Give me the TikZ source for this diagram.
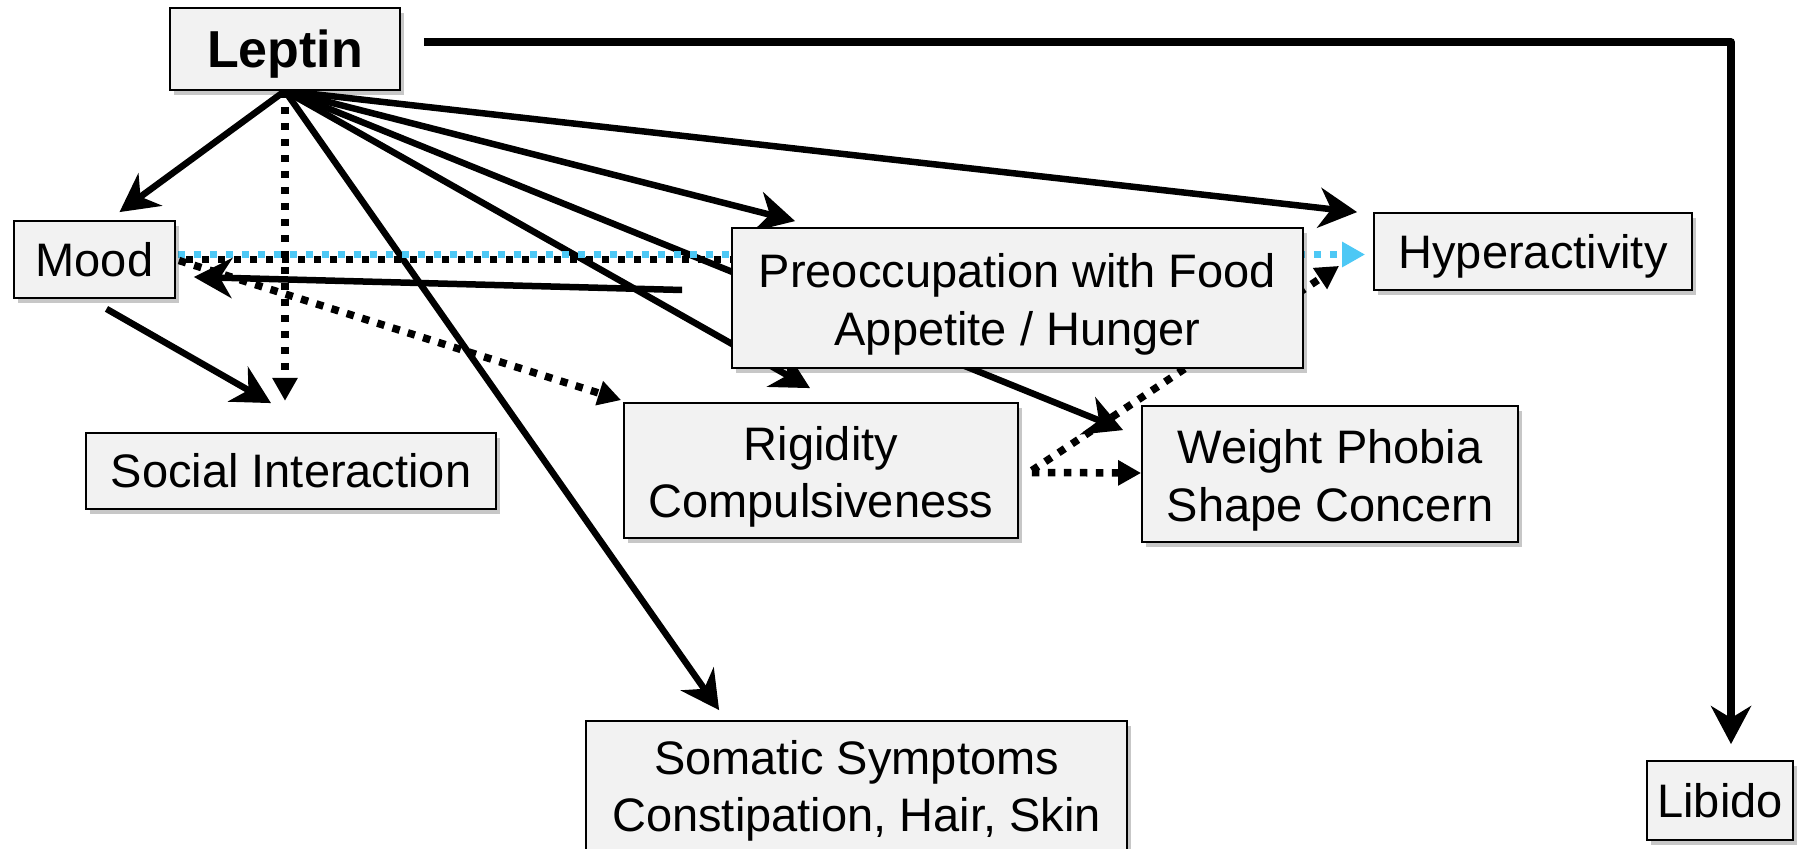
\documentclass[tikz,border=0pt]{standalone}
\usepackage{fontspec}
\setmainfont{Liberation Sans}
\usepackage{tikz}
\usetikzlibrary{
    arrows.meta,
    calc,
    backgrounds,
    shadows
}
\usepackage{xcolor}
\definecolor{boxgray}{RGB}{242,242,242}
\definecolor{skyblue}{RGB}{77,200,245}
\newcommand{\capstrut}{\rule{0pt}{23.6pt}}

\begin{document}
\begin{tikzpicture}[
    x=0.5pt, y=-0.5pt,
    box/.style={
        rectangle, draw, line width=0.9pt, fill=boxgray,
        drop shadow={shadow xshift=2pt, shadow yshift=-2.5pt, fill=black, opacity=0.22},
        align=center, inner sep=0pt,
        font=\fontsize{23.5}{28.75}\selectfont
    },
    arrow/.style={-{Stealth[length=19pt, width=20pt, inset=6pt]}, line width=3.25pt},
    dotarrow/.style={-{Triangle[length=11.5pt, width=12pt]}, line width=3.75pt,
        dash pattern=on 3.75pt off 4.25pt}
]
\useasboundingbox (0,0) rectangle (1802,849);

% Hormone and symptom boxes
\node[box, minimum width=115pt, minimum height=41pt, text depth=0pt,
      font=\fontsize{26}{30}\selectfont\bfseries] (leptin) at (285, 49) {Leptin};
\node[box, minimum width=80.5pt, minimum height=38.5pt] (mood) at (94.5, 259.5) {Mood};
\node[box, minimum width=205pt, minimum height=38pt] (social) at (291, 471) {Social Interaction};
\node[box, minimum width=285.5pt, minimum height=70pt] (preoc) at (1017.5, 298) {\capstrut Preoccupation with Food\\Appetite / Hunger};
\node[box, minimum width=159pt, minimum height=38.5pt, text depth=0pt] (hyper) at (1533, 251.5) {Hyperactivity};
\node[box, minimum width=197pt, minimum height=67.5pt] (rigid) at (821, 470.5) {\capstrut Rigidity\\Compulsiveness};
\node[box, minimum width=188pt, minimum height=68pt] (weight) at (1330, 474) {\capstrut Weight Phobia\\Shape Concern};
\node[box, minimum width=270.5pt, minimum height=70pt] (somatic) at (856.5, 791) {Somatic Symptoms\\Constipation, Hair, Skin};
\node[box, minimum width=73pt, minimum height=39.5pt] (libido) at (1720, 800.5) {Libido};

\coordinate (lepout) at ($(leptin.east)+(23,-7)$);
\coordinate (preocout) at ($(preoc.west)+(-49,-8)$);

\begin{scope}[on background layer]
% Leptin fan-out
\draw[arrow] (leptin.south) -- ($(mood.north)+(25,-8)$);
\draw[dotarrow] (leptin.south) -- ++(0,310);
\draw[arrow] (leptin.south) -- ($(somatic.north west)+(134,-10)$);
\draw[arrow] (leptin.south) -- ($(rigid.north)+(-11,-14)$);
\draw[arrow] (leptin.south) -- ($(preoc.north west)+(64,-6)$);
\draw[arrow] (leptin.south) -- ($(weight.north west)+(-18,25)$);
\draw[arrow] (leptin.south) -- ($(hyper.north west)+(-16,0)$);
\draw[arrow, line width=3.75pt, line join=round] (lepout) -| ($(libido.north)+(11,-16)$);

% Mood links
\draw[arrow] ($(mood.south)+(12,10)$) -- ($(social.north)+(-20,-29)$);
\draw[line width=3.75pt, dash pattern=on 3.75pt off 4.25pt, dash phase=4pt]
    ($(mood.east)+(2,0)$) -- ($(preoc.west)+(10,-38.5)$);
\draw[dotarrow, skyblue]
    ($(mood.east)+(2,-5)$) -- ($(hyper.west)+(-8,3)$);
\draw[dotarrow] ($(mood.east)+(3,1)$) -- ($(rigid.north west)+(-2,-2)$);
\draw[arrow] (preocout) -- ($(mood.east)+(18,17.5)$);

% Rigidity links
\draw[dotarrow] ($(rigid.east)+(13,2)$) -- ($(weight.west)+(0,-1)$);
\draw[dotarrow] ($(rigid.east)+(13,0)$) -- ($(hyper.south west)+(-34,-25)$);
\end{scope}

\end{tikzpicture}
\end{document}
